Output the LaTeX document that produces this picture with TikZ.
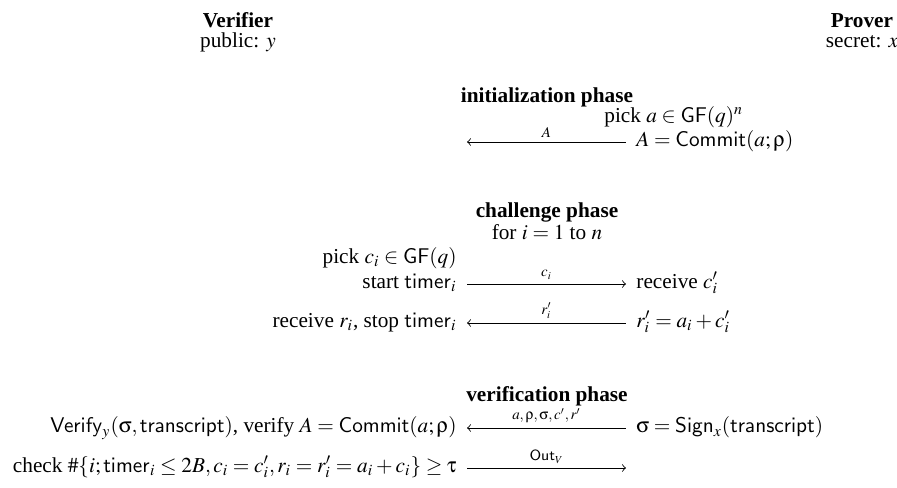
\documentclass[tikz,border=0pt]{standalone}
\usepackage{mathptmx}
\usepackage{fontspec}
\setmainfont{Liberation Serif}
\setsansfont{Liberation Sans}
% upright Greek from the Symbol font
\DeclareSymbolFont{upletters}{U}{psy}{m}{n}
\DeclareMathSymbol{\sigmaup}{\mathord}{upletters}{`s}
\DeclareMathSymbol{\rhoup}{\mathord}{upletters}{`r}
\DeclareMathSymbol{\tauup}{\mathord}{upletters}{`t}
\begin{document}
\begin{tikzpicture}[x=0.47pt,y=-0.47pt,
	vside/.style={anchor=base east,inner sep=0pt},
	pside/.style={anchor=base west,inner sep=0pt},
	mid/.style={anchor=base,inner sep=0pt},
	phase/.style={anchor=base,inner sep=0pt,font=\bfseries},
	msg/.style={above,inner sep=2pt,font=\scriptsize}]

	\useasboundingbox (0,0) rectangle (897,487);

	% Parties
	\node[phase] (ver) at (238,27) {Verifier};
	\node[mid] (pub) at (238,47) {public: $y$};
	\node[phase] (pro) at (862,27) {Prover};
	\node[mid] (sec) at (862,47) {secret: $x$};

	% Initialization
	\node[phase] (init) at (547,102) {initialization phase};
	\node[pside] (picka) at (604,122) {pick $a\in\mathsf{GF}(q)^n$};
	\node[pside] (commit) at (636,146) {$A=\mathsf{Commit}(a;\rhoup)$};
	\coordinate (v1) at (467,142);
	\coordinate (p1) at (626,142);
	\draw[<-] (v1) -- node[msg] {$A$} (p1);

	% Challenge
	\node[phase] (chal) at (547,217) {challenge phase};
	\node[mid] (loop) at (547,239) {for $i=1$ to $n$};
	\node[vside] (pickc) at (457,263) {pick $c_i\in\mathsf{GF}(q)$};
	\node[vside] (start) at (457,288) {start $\mathsf{timer}_i$};
	\node[pside] (recc) at (636,288) {receive $c'_i$};
	\coordinate (v2) at (467,284);
	\coordinate (p2) at (626,284);
	\draw[->] (v2) -- node[msg] {$c_i$} (p2);
	\node[vside] (stop) at (457,327) {receive $r_i$, stop $\mathsf{timer}_i$};
	\node[pside] (resp) at (636,327) {$r'_i=a_i+c'_i$};
	\coordinate (v3) at (467,323);
	\coordinate (p3) at (626,323);
	\draw[<-] (v3) -- node[msg] {$r'_i$} (p3);

	% Verification
	\node[phase] (verif) at (547,401) {verification phase};
	\node[vside] (check1) at (457,432) {$\mathsf{Verify}_y(\sigmaup,\mathsf{transcript})$, verify $A=\mathsf{Commit}(a;\rhoup)$};
	\node[pside] (sign) at (636,432) {$\sigmaup=\mathsf{Sign}_x(\mathsf{transcript})$};
	\coordinate (v4) at (467,428);
	\coordinate (p4) at (626,428);
	\draw[<-] (v4) -- node[msg] {$a,\rhoup,\sigmaup,c',r'$} (p4);
	\node[vside] (check2) at (457,472) {check $\#\{i;\mathsf{timer}_i\leq 2B,c_i=c'_i,r_i=r'_i=a_i+c_i\}\geq\tauup$};
	\coordinate (v5) at (467,468);
	\coordinate (p5) at (626,468);
	\draw[->] (v5) -- node[msg] {$\mathsf{Out}_V$} (p5);
\end{tikzpicture}
\end{document}
